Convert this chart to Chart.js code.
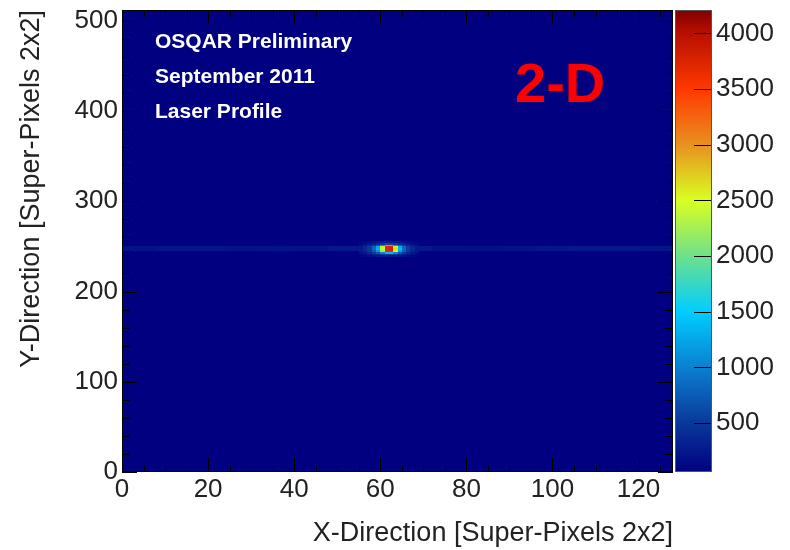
<!DOCTYPE html>
<html lang="en">
<head>
<meta charset="UTF-8">
<title>OSQAR Preliminary - Laser Profile 2-D</title>
<script src="https://cdn.jsdelivr.net/npm/chart.js"></script>
<style>
    html, body { margin: 0; padding: 0; background: #fff; }
    canvas { display: block; }
</style>
</head>
<body>
<canvas id="profileChart" width="790" height="550"></canvas>
<script>
    // axis ranges and tick labels
    const xRange = [0, 128];
    const yRange = [0, 512];
    const zRange = [60, 4210];
    const xTicks = [0, 20, 40, 60, 80, 100, 120];
    const yTicks = [0, 100, 200, 300, 400, 500];
    const zTicks = [500, 1000, 1500, 2000, 2500, 3000, 3500, 4000];

    // empty sensor level
    const baseLevel = 60;

    // laser line: band of rows and level per 8-bin segment along x
    const lineBand = [245, 250];
    const lineSegStart = [0, 8, 16, 24, 32, 40, 48, 56, 64, 72, 80, 88, 96, 104, 112, 120];
    const lineLevel = [200, 220, 220, 200, 210, 200, 240, 280, 260, 190, 180, 200, 230, 240, 240, 220];

    // hot spot: x bins, row starts (2 bins tall), counts (rows bottom -> top)
    const spotX = [55, 56, 57, 58, 59, 60, 61, 62, 63, 64, 65, 66, 67, 68];
    const spotY = [238, 240, 242, 244, 246, 248, 250, 252, 254];
    const spotZ = [
        [100, 120, 150, 180, 220, 260, 280, 280, 260, 220, 180, 150, 120, 100],
        [130, 170, 230, 300, 380, 480, 520, 520, 480, 380, 300, 230, 170, 130],
        [180, 250, 350, 500, 700, 1000, 1350, 1350, 1050, 700, 500, 350, 250, 180],
        [240, 340, 480, 740, 1150, 2200, 3650, 3700, 2450, 1200, 780, 480, 340, 240],
        [260, 370, 520, 820, 1300, 2400, 3750, 3800, 2650, 1350, 850, 520, 370, 260],
        [250, 360, 500, 800, 1250, 2350, 3700, 3750, 2600, 1300, 820, 500, 360, 250],
        [190, 260, 370, 520, 720, 1050, 1500, 1500, 1100, 720, 520, 370, 260, 190],
        [130, 170, 230, 300, 380, 480, 560, 560, 500, 380, 300, 230, 170, 130],
        [100, 120, 150, 180, 220, 260, 280, 280, 260, 220, 180, 150, 120, 100]
    ];

    const labels = ['OSQAR Preliminary', 'September 2011', 'Laser Profile'];

    // colour palette (value -> rgb)
    const palette = [
        [60, [0, 0, 128]],
        [500, [10, 56, 154]],
        [1000, [10, 128, 208]],
        [1500, [0, 206, 255]],
        [2000, [110, 224, 140]],
        [2500, [218, 255, 32]],
        [2750, [224, 200, 32]],
        [3000, [232, 144, 32]],
        [3500, [255, 56, 0]],
        [4000, [184, 16, 0]],
        [4210, [128, 0, 0]]
    ];

    function colourFor(v) {
        if (v <= palette[0][0]) return 'rgb(' + palette[0][1].join(',') + ')';
        for (let i = 1; i < palette.length; i++) {
            if (v <= palette[i][0]) {
                const [v0, c0] = palette[i - 1];
                const [v1, c1] = palette[i];
                const t = (v - v0) / (v1 - v0);
                const c = c0.map((k, j) => Math.round(k + (c1[j] - k) * t));
                return 'rgb(' + c.join(',') + ')';
            }
        }
        return 'rgb(' + palette[palette.length - 1][1].join(',') + ')';
    }

    const font = 'Liberation Sans, Arial, sans-serif';

    function fillCell(ctx, x, y, x0, x1, y0, y1, v) {
        const l = Math.round(x.getPixelForValue(x0));
        const r = Math.round(x.getPixelForValue(x1));
        const t = Math.round(y.getPixelForValue(y1));
        const b = Math.round(y.getPixelForValue(y0));
        ctx.fillStyle = colourFor(v);
        ctx.fillRect(l, t, r - l, b - t);
    }

    // drop the extra room Chart.js keeps for edge labels
    function fixBox(s, prop, size) {
        s[prop] = size;
        s.paddingTop = 0; s.paddingBottom = 0;
        s.paddingLeft = 0; s.paddingRight = 0;
    }

    const heatmap = {
        id: 'heatmap',
        beforeDatasetsDraw(chart) {
            const { ctx, chartArea: a, scales: { x, y } } = chart;
            ctx.save();
            ctx.beginPath();
            ctx.rect(a.left, a.top, a.right - a.left, a.bottom - a.top);
            ctx.clip();
            fillCell(ctx, x, y, xRange[0], xRange[1], yRange[0], yRange[1], baseLevel);
            lineSegStart.forEach((s, i) => {
                const e = i + 1 < lineSegStart.length ? lineSegStart[i + 1] : xRange[1];
                fillCell(ctx, x, y, s, e, lineBand[0], lineBand[1], lineLevel[i]);
            });
            spotY.forEach((yy, r) => {
                spotX.forEach((xx, c) => {
                    fillCell(ctx, x, y, xx, xx + 1, yy, yy + 2, spotZ[r][c]);
                });
            });
            ctx.restore();
        },
        afterDraw(chart) {
            const { ctx, chartArea: a, scales: { x, y, z } } = chart;
            ctx.save();

            // colour bar
            const bl = a.right + 2, br = a.right + 39;
            for (let py = Math.floor(z.top); py < z.bottom; py++) {
                ctx.fillStyle = colourFor(z.getValueForPixel(py + 0.5));
                ctx.fillRect(bl, py, br - bl, 1);
            }
            ctx.strokeStyle = '#555';
            ctx.lineWidth = 1;
            ctx.strokeRect(bl + 0.5, z.top + 0.5, br - bl - 1, z.bottom - z.top - 1);
            ctx.strokeStyle = '#000';
            zTicks.forEach(v => {
                const py = Math.round(z.getPixelForValue(v)) + 0.5;
                ctx.beginPath();
                ctx.moveTo(br - 18, py);
                ctx.lineTo(br - 1, py);
                ctx.stroke();
            });

            // frame and inward ticks on all sides
            ctx.strokeStyle = '#000';
            ctx.strokeRect(a.left + 0.5, a.top + 0.5, a.right - a.left - 1, a.bottom - a.top - 1);
            ctx.beginPath();
            for (let v = xRange[0]; v <= xRange[1]; v += 5) {
                const px = Math.round(x.getPixelForValue(v)) + 0.5;
                const len = v % 20 === 0 ? 14 : 7;
                ctx.moveTo(px, a.bottom); ctx.lineTo(px, a.bottom - len);
                ctx.moveTo(px, a.top); ctx.lineTo(px, a.top + len);
            }
            for (let v = yRange[0]; v <= yRange[1]; v += 20) {
                const py = Math.round(y.getPixelForValue(v)) + 0.5;
                const len = v % 100 === 0 ? 15 : 8;
                ctx.moveTo(a.left, py); ctx.lineTo(a.left + len, py);
                ctx.moveTo(a.right, py); ctx.lineTo(a.right - len, py);
            }
            ctx.stroke();

            // annotations
            ctx.fillStyle = '#fff';
            ctx.font = 'bold 21px ' + font;
            ctx.textBaseline = 'alphabetic';
            labels.forEach((t, i) => ctx.fillText(t, a.left + 33, a.top + 38 + i * 35));
            ctx.fillStyle = '#ff0000';
            ctx.font = 'bold 56px ' + font;
            ctx.fillText('2-D', a.left + 393, a.top + 92);
            ctx.restore();
        }
    };

    const tickFont = { family: font, size: 26 };
    const titleFont = { family: font, size: 27 };

    new Chart(document.getElementById('profileChart'), {
        type: 'scatter',
        data: { datasets: [{ data: [], pointRadius: 0 }] },
        options: {
            responsive: false,
            animation: false,
            devicePixelRatio: 1,
            layout: { padding: { top: 10, left: 0, right: 0, bottom: 0 } },
            plugins: { legend: { display: false }, tooltip: { enabled: false } },
            scales: {
                x: {
                    type: 'linear', min: xRange[0], max: xRange[1],
                    afterBuildTicks: s => { s.ticks = xTicks.map(v => ({ value: v })); },
                    afterFit: s => fixBox(s, 'height', 78),
                    grid: { display: false, drawTicks: false, tickLength: 0 }, border: { display: false },
                    ticks: { color: '#222', font: tickFont, padding: 2, maxRotation: 0, callback: v => String(v) },
                    title: { display: true, text: 'X-Direction [Super-Pixels 2x2]', align: 'end',
                        color: '#222', font: titleFont, padding: { top: 0, bottom: 0 } }
                },
                y: {
                    type: 'linear', min: yRange[0], max: yRange[1],
                    afterBuildTicks: s => { s.ticks = yTicks.map(v => ({ value: v })); },
                    afterFit: s => fixBox(s, 'width', 122),
                    grid: { display: false, drawTicks: false, tickLength: 0 }, border: { display: false },
                    ticks: { color: '#222', font: tickFont, padding: 4, callback: v => String(v) },
                    title: { display: true, text: 'Y-Direction [Super-Pixels 2x2]', align: 'end',
                        color: '#222', font: titleFont, padding: { top: 15, bottom: 0 } }
                },
                z: {
                    type: 'linear', position: 'right', min: zRange[0], max: zRange[1],
                    afterBuildTicks: s => { s.ticks = zTicks.map(v => ({ value: v })); },
                    afterFit: s => fixBox(s, 'width', 117),
                    grid: { display: false, drawTicks: false, tickLength: 0 }, border: { display: false },
                    ticks: { color: '#222', font: tickFont, padding: 43, callback: v => String(v) }
                }
            }
        },
        plugins: [heatmap]
    });
</script>
</body>
</html>
